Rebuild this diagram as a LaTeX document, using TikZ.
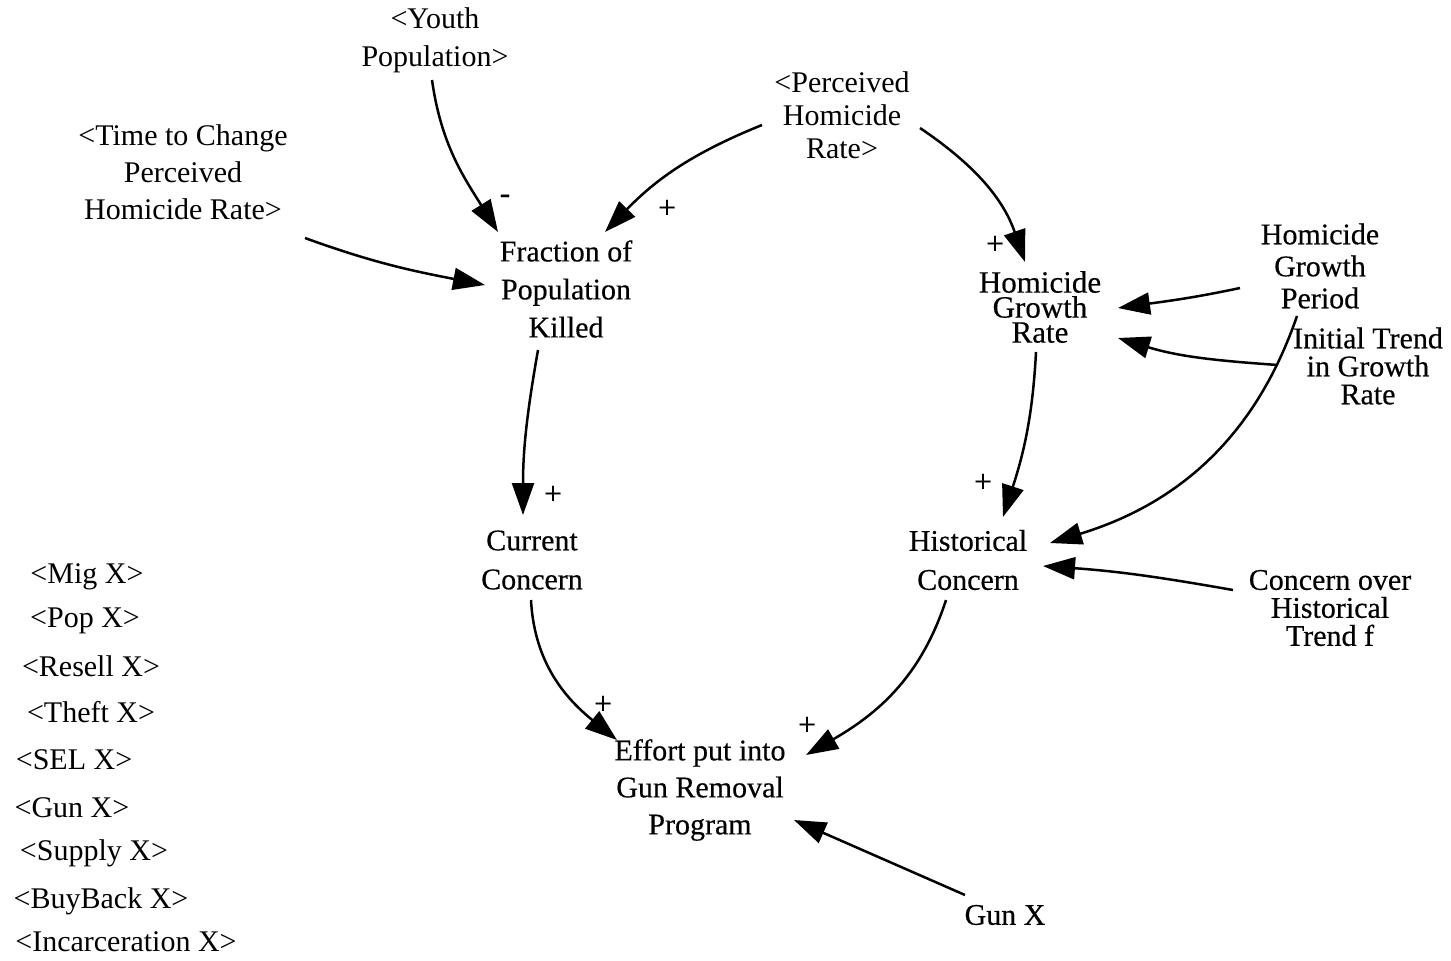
\documentclass[tikz,border=0pt]{standalone}
\usepackage{fontspec}
\setmainfont{Liberation Serif}
\newfontfamily\heavyserif{Liberation Serif}[FakeBold=0.4]
\usetikzlibrary{arrows.meta}
\begin{document}
\begin{tikzpicture}[x=0.5pt,y=0.5pt,
  lbl/.style={align=center,inner sep=0pt,font=\fontsize{15}{19}\selectfont},
  var/.style={align=center,inner sep=0pt,font=\heavyserif\fontsize{15}{19}\selectfont},
  arr/.style={-{Triangle[length=16pt,width=11pt]},line width=1.25pt},
  pol/.style={inner sep=0pt,font=\heavyserif\fontsize{16}{18}\selectfont}]
\useasboundingbox (0,0) rectangle (1451,-960);
% shadow variables
\node[lbl] (youth) at (435,-40) {<Youth\\Population>};
\node[lbl,font=\fontsize{15}{18.5}\selectfont] (time) at (183,-172) {<Time to Change\\Perceived\\Homicide Rate>};
\node[lbl,font=\fontsize{15}{16.5}\selectfont] (perc) at (842,-115) {<Perceived\\Homicide\\Rate>};
% variables
\node[var] (frac) at (566,-289) {Fraction of\\Population\\Killed};
\node[var,font=\heavyserif\fontsize{15.5}{12.5}\selectfont] (hgr) at (1040,-307) {Homicide\\Growth\\Rate};
\node[var,font=\heavyserif\fontsize{15}{16}\selectfont] (hgp) at (1320,-266) {Homicide\\Growth\\Period};
\node[var,font=\heavyserif\fontsize{15}{14}\selectfont] (itgr) at (1368,-366) {Initial Trend\\in Growth\\Rate};
\node[var,font=\heavyserif\fontsize{15}{19.5}\selectfont] (cur) at (532,-560) {Current\\Concern};
\node[var,font=\heavyserif\fontsize{15}{19.5}\selectfont] (hist) at (968,-560) {Historical\\Concern};
\node[var,font=\heavyserif\fontsize{15}{14}\selectfont] (cot) at (1330,-608) {Concern over\\Historical\\Trend f};
\node[var,font=\heavyserif\fontsize{15}{18.5}\selectfont] (effort) at (700,-790) {Effort put into\\Gun Removal\\Program};
\node[var] (gunx) at (1005,-915) {Gun X};
% list of shadow variables
\node[lbl] (mig) at (87,-577) {<Mig X>};
\node[lbl] (pop) at (85,-621) {<Pop X>};
\node[lbl] (resell) at (91,-666) {<Resell X>};
\node[lbl] (theft) at (91,-712) {<Theft X>};
\node[lbl] (sel) at (74,-760) {<SEL X>};
\node[lbl] (gun) at (72,-808) {<Gun X>};
\node[lbl] (supply) at (94,-853) {<Supply X>};
\node[lbl] (buyback) at (101,-901) {<BuyBack X>};
\node[lbl] (incarc) at (126,-942) {<Incarceration X>};
% connectors
\draw[arr] ([shift={(-3,-40)}]youth.center) to[out=-82,in=122] ([shift={(-68,57)}]frac.center);
\draw[arr] ([shift={(122,-66)}]time.center) to[out=-20,in=169] ([shift={(-81,4)}]frac.center);
\draw[arr] ([shift={(-80,-10)}]perc.center) to[out=202,in=46] ([shift={(39,57)}]frac.center);
\draw[arr] ([shift={(78,-13)}]perc.center) to[out=-34,in=109] ([shift={(-15,45)}]hgr.center);
\draw[arr] ([shift={(-80,-22)}]hgp.center) to[out=192,in=8] ([shift={(78,-1)}]hgr.center);
\draw[arr] ([shift={(-90,1)}]itgr.center) to[out=176,in=-17] ([shift={(78,-31)}]hgr.center);
\draw[arr] ([shift={(-23,-50)}]hgp.center) to[out=-109,in=17] ([shift={(82,17)}]hist.center);
\draw[arr] ([shift={(-4,-45)}]hgr.center) to[out=-93,in=72] ([shift={(35,43)}]hist.center);
\draw[arr] ([shift={(-97,18)}]cot.center) to[out=170,in=-4] ([shift={(75,-6)}]hist.center);
\draw[arr] ([shift={(-28,-61)}]frac.center) to[out=-100,in=90] ([shift={(-9,45)}]cur.center);
\draw[arr] ([shift={(-1,-40)}]cur.center) to[out=-87,in=141] ([shift={(-83,50)}]effort.center);
\draw[arr] ([shift={(-22,-40)}]hist.center) to[out=-108,in=30] ([shift={(106,35)}]effort.center);
\draw[arr] ([shift={(-40,20)}]gunx.center) -- ([shift={(94,-30)}]effort.center);
% polarities
\node[pol] (p1) at (505,-199) {-};
\node[pol] (p2) at (667,-209) {+};
\node[pol] (p3) at (995,-245) {+};
\node[pol] (p4) at (553,-495) {+};
\node[pol] (p5) at (983,-483) {+};
\node[pol] (p6) at (603,-705) {+};
\node[pol] (p7) at (807,-726) {+};
\end{tikzpicture}
\end{document}
